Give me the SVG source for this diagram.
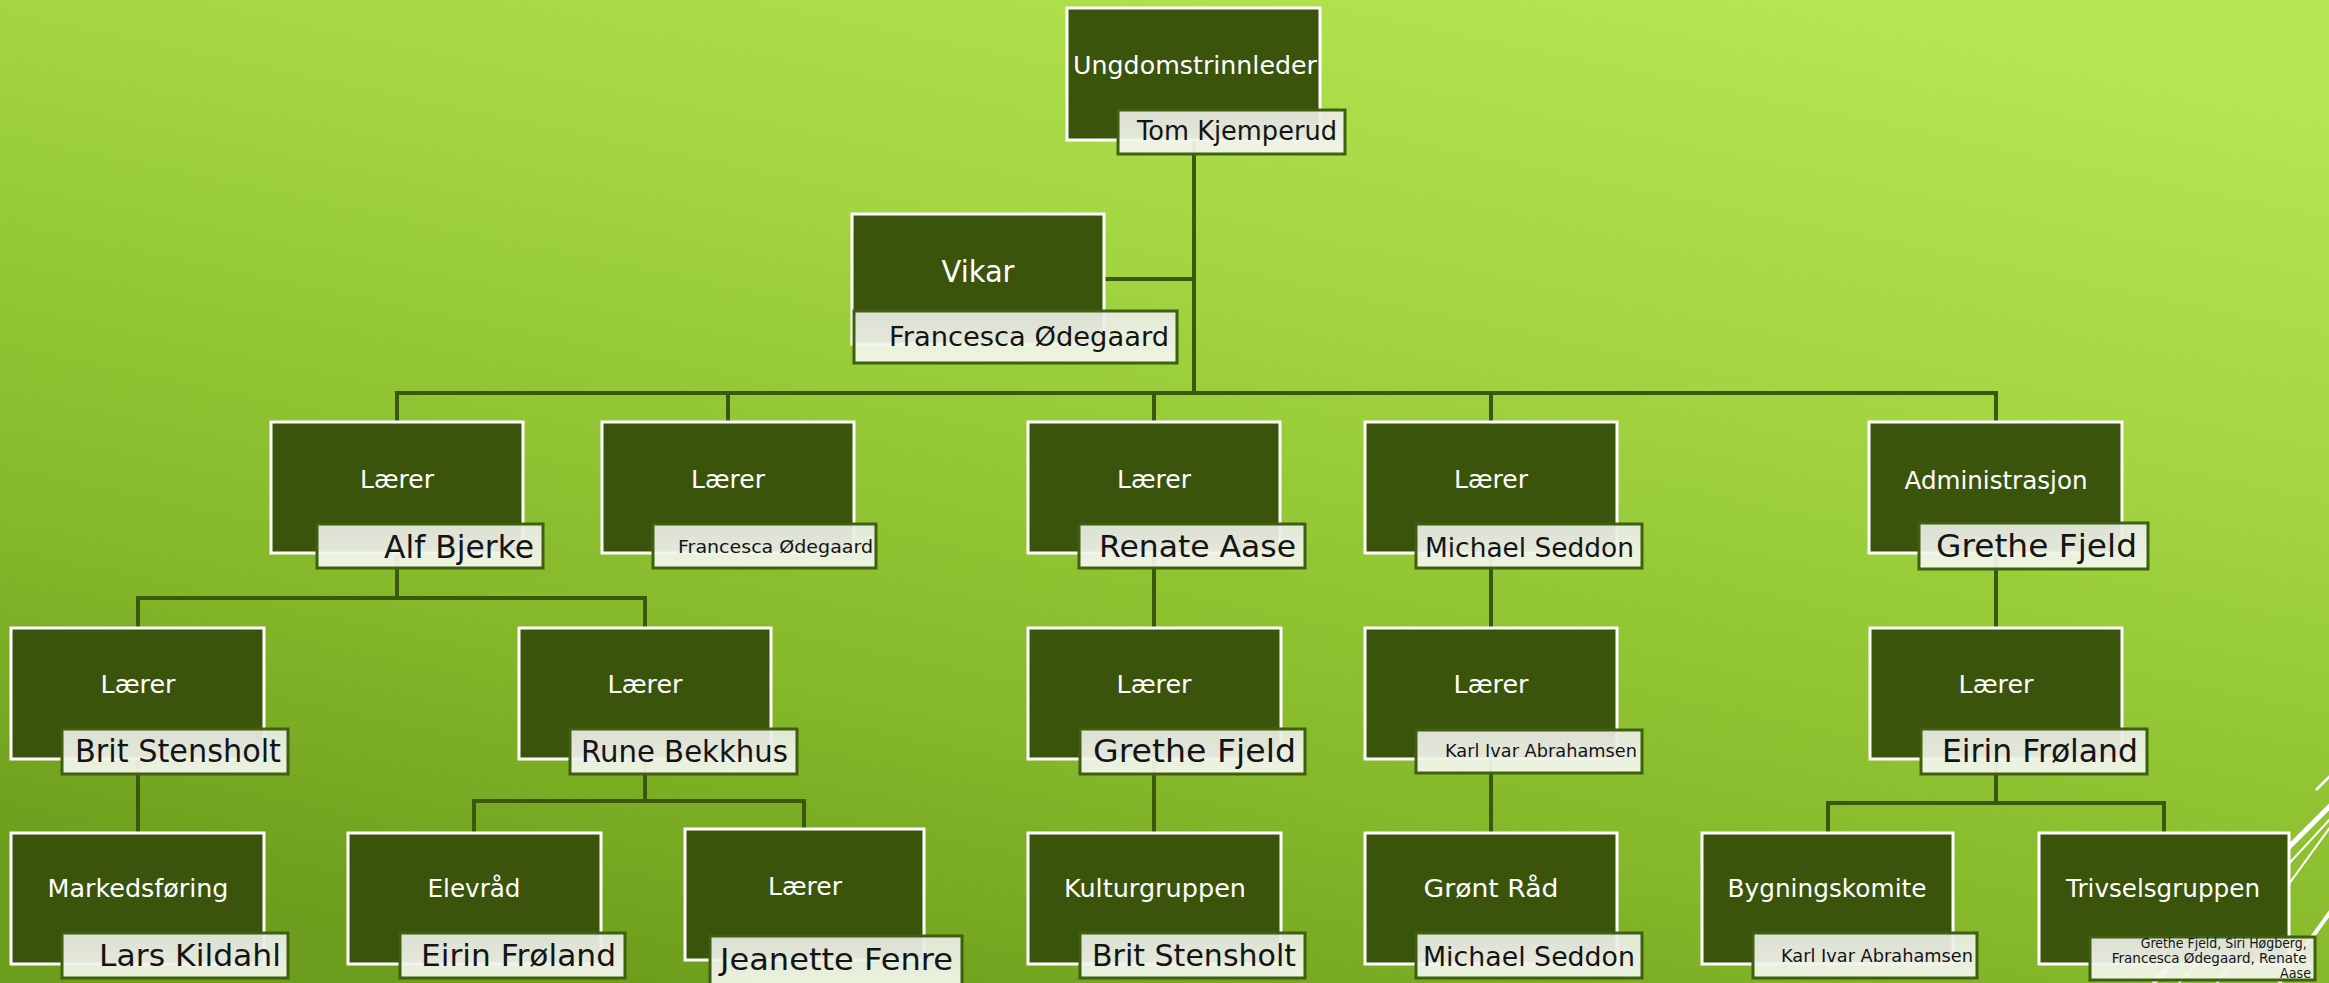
<svg xmlns="http://www.w3.org/2000/svg" width="2329" height="983" viewBox="0 0 2329 983">
<defs>
<linearGradient id="bg" x1="0.75" y1="0" x2="0.25" y2="1">
<stop offset="0" stop-color="#b5e550"/>
<stop offset="0.3" stop-color="#a3d641"/>
<stop offset="0.7" stop-color="#87ba2b"/>
<stop offset="1" stop-color="#6c9d1c"/>
</linearGradient>
<linearGradient id="nbg" x1="0" y1="0" x2="0" y2="1">
<stop offset="0" stop-color="#e8ebe3"/>
<stop offset="1" stop-color="#f4f8ec"/>
</linearGradient>
<style>
.box{fill:#3a540c;stroke:#ffffff;stroke-width:3}
.nb{fill:url(#nbg);fill-opacity:0.93;stroke:#3f600f;stroke-width:3}
.t{font-family:"DejaVu Sans","Liberation Sans",sans-serif;fill:#ffffff;text-anchor:middle;font-size:25px}
.n{font-family:"DejaVu Sans","Liberation Sans",sans-serif;fill:#141414;text-anchor:end}
.c{stroke:#3b590e;stroke-width:4;fill:none;stroke-linecap:square}
.d{stroke:#ffffff;fill:none}
</style>
</defs>
<rect x="0" y="0" width="2329" height="983" fill="url(#bg)"/>
<g id="decoration">
<path class="d" stroke-width="2.5" d="M2331,775 L2316,790"/>
<path class="d" stroke-width="5" d="M2331,805 L2153,983"/>
<path class="d" stroke-width="2" d="M2331,818 L2179,983"/>
<path class="d" stroke-width="2" d="M2331,826 L2217,983"/>
<path class="d" stroke-width="4" d="M2331,911 L2279,983"/>
</g>
<g id="connectors">
<path class="c" d="M1194,140 V393"/>
<path class="c" d="M1104,279 H1194"/>
<path class="c" d="M397,393 H1996"/>
<path class="c" d="M397,393 V440 M728,393 V440 M1154,393 V440 M1491,393 V440 M1996,393 V440"/>
<path class="c" d="M397,540 V598 M138,598 H645 M138,598 V640 M645,598 V640"/>
<path class="c" d="M138,740 V850"/>
<path class="c" d="M645,740 V801 M474,801 H804 M474,801 V850 M804,801 V845"/>
<path class="c" d="M1154,540 V640 M1154,740 V850"/>
<path class="c" d="M1491,540 V640 M1491,740 V850"/>
<path class="c" d="M1996,540 V640 M1996,740 V803 M1828,803 H2164 M1828,803 V850 M2164,803 V850"/>
</g>
<g id="n-ungdomstrinnleder">
<rect class="box" x="1067" y="8" width="253" height="132"/>
<text class="t" x="1195" y="74" textLength="244" lengthAdjust="spacingAndGlyphs">Ungdomstrinnleder</text>
<rect class="nb" x="1118" y="110" width="227" height="44"/>
<text class="n" x="1337" y="140" font-size="26" textLength="200" lengthAdjust="spacingAndGlyphs">Tom Kjemperud</text>
</g>
<g id="n-vikar">
<rect class="box" x="852" y="214" width="252" height="130"/>
<text class="t" x="978" y="282" font-size="30" style="font-size:30px" textLength="73" lengthAdjust="spacingAndGlyphs">Vikar</text>
<rect class="nb" x="854" y="311" width="323" height="52"/>
<text class="n" x="1169" y="346" font-size="26" textLength="280" lengthAdjust="spacingAndGlyphs">Francesca Ødegaard</text>
</g>
<g id="n-alf">
<rect class="box" x="271" y="422" width="252" height="131"/>
<text class="t" x="397" y="488" textLength="74" lengthAdjust="spacingAndGlyphs">Lærer</text>
<rect class="nb" x="317" y="524" width="226" height="44"/>
<text class="n" x="534" y="558" font-size="32" textLength="150" lengthAdjust="spacingAndGlyphs">Alf Bjerke</text>
</g>
<g id="n-francesca">
<rect class="box" x="602" y="422" width="252" height="131"/>
<text class="t" x="728" y="488" textLength="74" lengthAdjust="spacingAndGlyphs">Lærer</text>
<rect class="nb" x="653" y="524" width="223" height="44"/>
<text class="n" x="873" y="553" font-size="18" textLength="195" lengthAdjust="spacingAndGlyphs">Francesca Ødegaard</text>
</g>
<g id="n-renate">
<rect class="box" x="1028" y="422" width="252" height="131"/>
<text class="t" x="1154" y="488" textLength="74" lengthAdjust="spacingAndGlyphs">Lærer</text>
<rect class="nb" x="1079" y="524" width="226" height="44"/>
<text class="n" x="1296" y="557" font-size="31" textLength="197" lengthAdjust="spacingAndGlyphs">Renate Aase</text>
</g>
<g id="n-michael">
<rect class="box" x="1365" y="422" width="252" height="131"/>
<text class="t" x="1491" y="488" textLength="74" lengthAdjust="spacingAndGlyphs">Lærer</text>
<rect class="nb" x="1416" y="524" width="226" height="44"/>
<text class="n" x="1634" y="557" font-size="26" textLength="209" lengthAdjust="spacingAndGlyphs">Michael Seddon</text>
</g>
<g id="n-administrasjon">
<rect class="box" x="1869" y="422" width="253" height="131"/>
<text class="t" x="1996" y="489" textLength="183" lengthAdjust="spacingAndGlyphs">Administrasjon</text>
<rect class="nb" x="1919" y="523" width="229" height="46"/>
<text class="n" x="2137" y="557" font-size="32" textLength="201" lengthAdjust="spacingAndGlyphs">Grethe Fjeld</text>
</g>
<g id="n-brit">
<rect class="box" x="11" y="628" width="253" height="131"/>
<text class="t" x="138" y="693" textLength="75" lengthAdjust="spacingAndGlyphs">Lærer</text>
<rect class="nb" x="62" y="729" width="226" height="45"/>
<text class="n" x="281" y="762" font-size="32" textLength="206" lengthAdjust="spacingAndGlyphs">Brit Stensholt</text>
</g>
<g id="n-rune">
<rect class="box" x="519" y="628" width="252" height="131"/>
<text class="t" x="645" y="693" textLength="75" lengthAdjust="spacingAndGlyphs">Lærer</text>
<rect class="nb" x="570" y="729" width="227" height="45"/>
<text class="n" x="788" y="762" font-size="30" textLength="207" lengthAdjust="spacingAndGlyphs">Rune Bekkhus</text>
</g>
<g id="n-grethe">
<rect class="box" x="1028" y="628" width="253" height="131"/>
<text class="t" x="1154" y="693" textLength="75" lengthAdjust="spacingAndGlyphs">Lærer</text>
<rect class="nb" x="1080" y="729" width="225" height="45"/>
<text class="n" x="1296" y="762" font-size="32" textLength="203" lengthAdjust="spacingAndGlyphs">Grethe Fjeld</text>
</g>
<g id="n-karl">
<rect class="box" x="1365" y="628" width="252" height="131"/>
<text class="t" x="1491" y="693" textLength="75" lengthAdjust="spacingAndGlyphs">Lærer</text>
<rect class="nb" x="1416" y="730" width="226" height="43"/>
<text class="n" x="1637" y="757" font-size="18" textLength="192" lengthAdjust="spacingAndGlyphs">Karl Ivar Abrahamsen</text>
</g>
<g id="n-eirin">
<rect class="box" x="1870" y="628" width="252" height="131"/>
<text class="t" x="1996" y="693" textLength="75" lengthAdjust="spacingAndGlyphs">Lærer</text>
<rect class="nb" x="1921" y="729" width="226" height="45"/>
<text class="n" x="2138" y="762" font-size="32" textLength="196" lengthAdjust="spacingAndGlyphs">Eirin Frøland</text>
</g>
<g id="n-markedsforing">
<rect class="box" x="11" y="833" width="253" height="131"/>
<text class="t" x="138" y="897" textLength="181" lengthAdjust="spacingAndGlyphs">Markedsføring</text>
<rect class="nb" x="62" y="933" width="226" height="45"/>
<text class="n" x="281" y="966" font-size="31" textLength="182" lengthAdjust="spacingAndGlyphs">Lars Kildahl</text>
</g>
<g id="n-elevrad">
<rect class="box" x="348" y="833" width="253" height="131"/>
<text class="t" x="474" y="897" textLength="93" lengthAdjust="spacingAndGlyphs">Elevråd</text>
<rect class="nb" x="400" y="933" width="225" height="45"/>
<text class="n" x="616" y="966" font-size="31" textLength="195" lengthAdjust="spacingAndGlyphs">Eirin Frøland</text>
</g>
<g id="n-jeanette">
<rect class="box" x="685" y="829" width="239" height="131"/>
<text class="t" x="805" y="895" textLength="74" lengthAdjust="spacingAndGlyphs">Lærer</text>
<rect class="nb" x="710" y="936" width="252" height="52"/>
<text class="n" x="953" y="970" font-size="31" textLength="233" lengthAdjust="spacingAndGlyphs">Jeanette Fenre</text>
</g>
<g id="n-kulturgruppen">
<rect class="box" x="1028" y="833" width="253" height="131"/>
<text class="t" x="1155" y="897" textLength="182" lengthAdjust="spacingAndGlyphs">Kulturgruppen</text>
<rect class="nb" x="1080" y="933" width="225" height="45"/>
<text class="n" x="1296" y="966" font-size="31" textLength="204" lengthAdjust="spacingAndGlyphs">Brit Stensholt</text>
</g>
<g id="n-gront-rad">
<rect class="box" x="1365" y="833" width="252" height="131"/>
<text class="t" x="1491" y="897" textLength="135" lengthAdjust="spacingAndGlyphs">Grønt Råd</text>
<rect class="nb" x="1416" y="933" width="226" height="45"/>
<text class="n" x="1635" y="966" font-size="26" textLength="212" lengthAdjust="spacingAndGlyphs">Michael Seddon</text>
</g>
<g id="n-bygningskomite">
<rect class="box" x="1702" y="833" width="251" height="131"/>
<text class="t" x="1827" y="897" textLength="199" lengthAdjust="spacingAndGlyphs">Bygningskomite</text>
<rect class="nb" x="1753" y="933" width="224" height="45"/>
<text class="n" x="1973" y="962" font-size="18" textLength="192" lengthAdjust="spacingAndGlyphs">Karl Ivar Abrahamsen</text>
</g>
<g id="n-trivselsgruppen">
<rect class="box" x="2039" y="833" width="250" height="131"/>
<text class="t" x="2163" y="897" textLength="194" lengthAdjust="spacingAndGlyphs">Trivselsgruppen</text>
<rect class="nb" x="2090" y="937" width="225" height="43"/>
<text class="n" font-size="13.5">
<tspan x="2311" y="948" textLength="166" lengthAdjust="spacingAndGlyphs">Grethe Fjeld, Siri Høgberg,</tspan>
<tspan x="2311" y="963" textLength="195" lengthAdjust="spacingAndGlyphs">Francesca Ødegaard, Renate</tspan>
<tspan x="2311" y="978" textLength="31" lengthAdjust="spacingAndGlyphs">Aase</tspan>
</text>
</g>
</svg>
